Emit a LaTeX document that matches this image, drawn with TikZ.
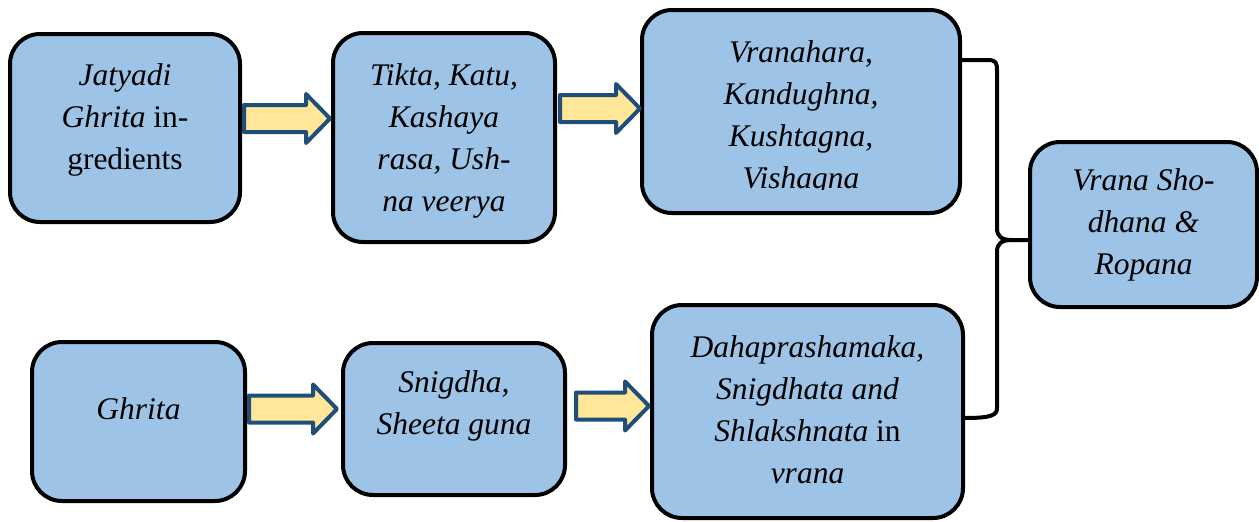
\documentclass[tikz,border=0pt]{standalone}
\usepackage{fontspec}
\setmainfont{Liberation Serif}
\newfontfamily\boxfont{Liberation Serif}
\usetikzlibrary{calc}
\definecolor{boxblue}{RGB}{157,195,230}
\definecolor{arrfill}{RGB}{255,230,153}
\definecolor{arrline}{RGB}{31,78,121}
\begin{document}
\begin{tikzpicture}[x=0.5pt,y=-0.5pt,
  boxtext/.style={align=center, font=\boxfont\fontsize{15.75pt}{21pt}\selectfont, inner sep=0pt},
  box/.style={draw=black, line width=2pt, fill=boxblue, rounded corners=15pt, inner sep=0pt},
  blockarrow/.style={draw=arrline, fill=arrfill, line width=2pt, line join=round},
  brace/.style={draw=black, line width=2pt, line cap=round, line join=round}]
\useasboundingbox (0,0) rectangle (1259,521);

% boxes
\node[box, minimum width=115pt, minimum height=94pt] (b1) at (125,128) {};
\node[box, minimum width=111pt, minimum height=104.5pt] (b2) at (444,137.5) {};
\node[box, minimum width=159pt, minimum height=101.5pt] (b3) at (801,111.5) {};
\node[box, minimum width=113.5pt, minimum height=82.5pt] (b4) at (1143.5,224.5) {};
\node[box, minimum width=106.5pt, minimum height=79.5pt] (b5) at (138.5,421.5) {};
\node[box, minimum width=111pt, minimum height=76pt] (b6) at (454,419) {};
\node[box, minimum width=155.5pt, minimum height=106.5pt] (b7) at (807.5,411.5) {};

% texts
\node[boxtext] (t1) at ([yshift=4pt]b1.center) {\textit{Jatyadi}\\\textit{Ghrita} in-\\gredients};
\node[boxtext] (t2) at ([yshift=-1.75pt]b2.center) {\textit{Tikta, Katu,}\\\textit{Kashaya}\\\textit{rasa, Ush-}\\\textit{na veerya}};
\node[boxtext] (t3) at ([yshift=-3pt]b3.center) {\textit{Vranahara,}\\\textit{Kandughna,}\\\textit{Kushtagna,}\\\textit{Vishagna}};
% the text frame of this box cuts off the bottom of the last line
\fill[boxblue] (740,190) rectangle (870,203);
\node[boxtext] (t4) at (b4.center) {\textit{Vrana Sho-}\\\textit{dhana \&}\\\textit{Ropana}};
\node[boxtext] (t5) at ([yshift=6.25pt]b5.center) {\textit{Ghrita}};
\node[boxtext] (t6) at ([yshift=6.5pt]b6.center) {\textit{Snigdha,}\\\textit{Sheeta guna}};
\node[boxtext] (t7) at ([yshift=0.75pt]b7.center) {\textit{Dahaprashamaka,}\\\textit{Snigdhata and}\\\textit{Shlakshnata} in\\\textit{vrana}};

% block arrows (tail at first box, tip at next box)
\coordinate (a1s) at ([xshift=1pt]b1.east |- 0,118.5);
\coordinate (a1e) at ([xshift=-0.5pt]b2.west |- 0,118.5);
\coordinate (a2s) at ([xshift=1.5pt]b2.east |- 0,108.5);
\coordinate (a2e) at (b3.west |- 0,108.5);
\coordinate (a3s) at ([xshift=1pt]b5.east |- 0,409);
\coordinate (a3e) at ([xshift=-2pt]b6.west |- 0,409);
\coordinate (a4s) at ([xshift=4.5pt]b6.east |- 0,406);
\coordinate (a4e) at ([xshift=-0.5pt]b7.west |- 0,406);
\foreach \s/\e in {a1s/a1e, a2s/a2e, a3s/a3e, a4s/a4e}{
  \path[blockarrow] let \p1=(\s), \p2=(\e) in
    (\x1,\y1-6.75pt) -- (\x2-12pt,\y1-6.75pt) -- (\x2-12pt,\y1-12.25pt) -- (\x2,\y1)
    -- (\x2-12pt,\y1+12.25pt) -- (\x2-12pt,\y1+6.75pt) -- (\x1,\y1+6.75pt) -- cycle;
}

% brace
\coordinate (bt) at (1012,240);
\draw[brace] (b3.east |- 0,60) -- (988,60) .. controls (996,60) and (997,63) .. (997,70)
  -- (997,228) .. controls (997,237) and (1002,240) .. (bt) -- (b4.west |- 0,240);
\draw[brace] (bt) .. controls (1002,240) and (997,243) .. (997,252)
  -- (997,408) .. controls (997,415) and (992,418) .. (b7.east |- 0,418);
\end{tikzpicture}
\end{document}
